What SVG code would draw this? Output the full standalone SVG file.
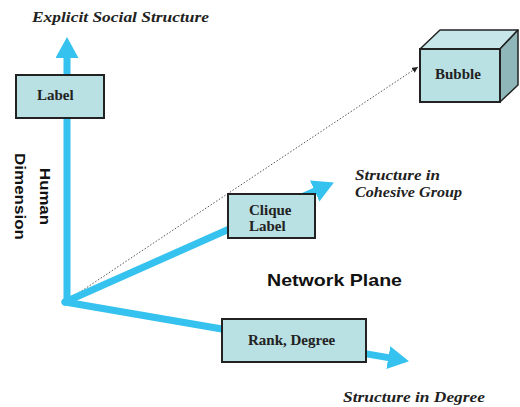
<svg xmlns="http://www.w3.org/2000/svg" width="520" height="407" viewBox="0 0 520 407">
  <style>
    .axis { stroke: #35c2ef; stroke-width: 7; stroke-linecap: round; fill: none; }
    .head { fill: #35c2ef; }
    .box { fill: #b9e0e3; stroke: #222; stroke-width: 2; }
    .box-label { font-family: "Liberation Serif", "Times New Roman", serif; font-weight: bold; font-size: 15px; fill: #222; }
    .axis-title { font-family: "Liberation Serif", "Times New Roman", serif; font-weight: bold; font-style: italic; font-size: 15px; fill: #222; }
    .sans-title { font-family: "Liberation Sans", Arial, sans-serif; font-weight: bold; fill: #111; }
  </style>
  <defs>
    <marker id="tip" markerUnits="userSpaceOnUse" markerWidth="24" markerHeight="24" refX="0" refY="11.5" orient="auto">
      <path class="head" d="M0,0 L21,11.5 L0,23 Z"/>
    </marker>
    <marker id="dot-tip" markerUnits="userSpaceOnUse" markerWidth="8" markerHeight="8" refX="6" refY="3" orient="auto">
      <path d="M0,0 L6,3 L0,6 Z" fill="#222"/>
    </marker>
  </defs>

  <!-- axes and the dotted link to the bubble -->
  <g id="connectors">
    <line x1="65" y1="302" x2="418" y2="67" stroke="#555" stroke-width="1" stroke-dasharray="1.5 1.8" marker-end="url(#dot-tip)"/>
    <line class="axis" x1="67" y1="302" x2="67" y2="58" marker-end="url(#tip)"/>
    <line class="axis" x1="65" y1="302" x2="314.7" y2="191.1" marker-end="url(#tip)"/>
    <line class="axis" x1="65" y1="302" x2="388.3" y2="357.6" marker-end="url(#tip)"/>
  </g>

  <!-- axis titles -->
  <g id="titles">
    <text class="axis-title" x="32" y="22" font-size="14" textLength="177" lengthAdjust="spacingAndGlyphs">Explicit Social Structure</text>
    <text class="axis-title" x="355" y="180" textLength="85" lengthAdjust="spacingAndGlyphs">Structure in</text>
    <text class="axis-title" x="355" y="197" textLength="107" lengthAdjust="spacingAndGlyphs">Cohesive Group</text>
    <text class="axis-title" x="343" y="402" textLength="142" lengthAdjust="spacingAndGlyphs">Structure in Degree</text>
    <text class="sans-title" x="267" y="286" font-size="17" textLength="135" lengthAdjust="spacingAndGlyphs">Network Plane</text>
    <g transform="translate(0,196.5) rotate(90)">
      <text class="sans-title" x="-28.5" y="-40" font-size="15.5" textLength="57" lengthAdjust="spacingAndGlyphs">Human</text>
      <text class="sans-title" x="-43.5" y="-15" font-size="15.5" textLength="87" lengthAdjust="spacingAndGlyphs">Dimension</text>
    </g>
  </g>

  <g id="node-label">
    <rect class="box" x="16" y="75" width="88" height="43"/>
    <text class="box-label" x="37" y="100">Label</text>
  </g>

  <g id="node-clique">
    <rect class="box" x="228" y="194" width="87" height="44"/>
    <text class="box-label" x="249" y="215">Clique</text>
    <text class="box-label" x="249" y="231">Label</text>
  </g>

  <g id="node-rank">
    <rect class="box" x="222" y="319" width="144" height="43"/>
    <text class="box-label" x="248" y="345">Rank, Degree</text>
  </g>

  <g id="node-bubble">
    <polygon points="420,49 440,30 518,30 500,49" fill="#c6e6e9" stroke="#222" stroke-width="1.5" stroke-linejoin="round"/>
    <polygon points="500,49 518,30 518,85 500,102" fill="#8fb7ba" stroke="#222" stroke-width="1.5" stroke-linejoin="round"/>
    <rect class="box" x="420" y="49" width="80" height="53" stroke-width="1.5"/>
    <text class="box-label" x="435" y="79">Bubble</text>
  </g>
</svg>
